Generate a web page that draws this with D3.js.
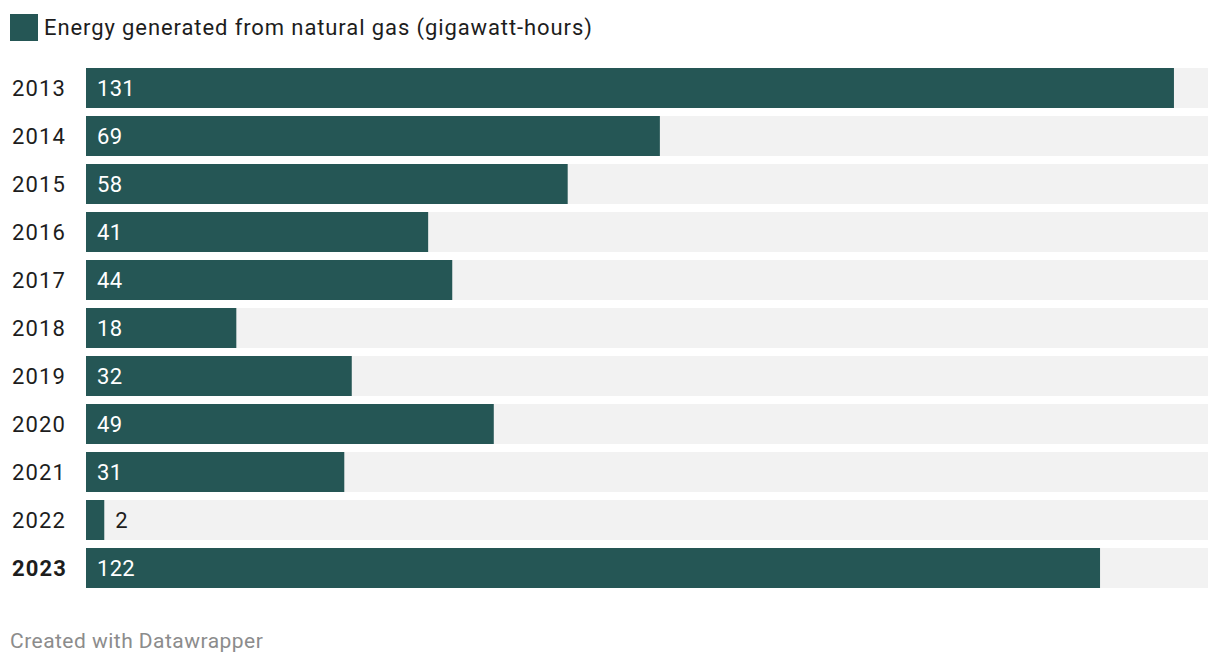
<!DOCTYPE html>
<html><head><meta charset="utf-8">
<script src="https://cdn.jsdelivr.net/npm/d3@7"></script>
<style>body{margin:0;background:#fff;font-family:Roboto,sans-serif;}</style>
</head><body>
<svg id="c" width="1220" height="666"></svg>
<script>
const years = ["2013","2014","2015","2016","2017","2018","2019","2020","2021","2022","2023"];
const values = [131, 69.1, 58, 41.2, 44.1, 18.1, 32, 49.1, 31.1, 2.2, 122.1];
const legendLabel = "Energy generated from natural gas (gigawatt-hours)";
const footer = "Created with Datawrapper";
const maxDomain = 135.1;

const svg = d3.select("#c");
const color = "#255655";
const x = d3.scaleLinear().domain([0, maxDomain]).range([86, 1208]);
const step = 48, bh = 40;
const yPos = d3.scalePoint().domain(years).range([68, 68 + step*(years.length-1)]);

// legend
svg.append("rect").attr("x",10).attr("y",14).attr("width",28).attr("height",27).attr("fill",color);
svg.append("text").attr("x",44).attr("y",34.5).attr("font-size",22).attr("letter-spacing",0.9).attr("fill","#1d1d1d").text(legendLabel);

const g = svg.append("g");
const rows = g.selectAll("g.row").data(years.map((yr,i)=>({yr, v: values[i]}))).join("g");
rows.append("rect").attr("x", x(0)).attr("y", d=>yPos(d.yr)).attr("width", x(maxDomain)-x(0)).attr("height", bh).attr("fill","#f2f2f2");
rows.append("rect").attr("x", x(0)).attr("y", d=>yPos(d.yr)).attr("width", d=>x(d.v)-x(0)).attr("height", bh).attr("fill",color);
rows.append("text").attr("x",12).attr("y", d=>yPos(d.yr)+bh/2+8)
  .attr("font-size",22).attr("letter-spacing",1.1).attr("fill","#1d1d1d")
  .attr("font-weight", (d,i)=> i===years.length-1 ? "bold" : "normal")
  .text(d=>d.yr);
rows.append("text")
  .attr("x", d => (x(d.v)-x(0) > 50) ? x(0)+11 : x(d.v)+11)
  .attr("y", d=>yPos(d.yr)+bh/2+8)
  .attr("font-size",22).attr("letter-spacing",0.3)
  .attr("fill", d => (x(d.v)-x(0) > 50) ? "#ffffff" : "#1d1d1d")
  .text(d=>d3.format(".0f")(d.v));

svg.append("text").attr("x",10).attr("y",648).attr("font-size",21).attr("letter-spacing",0.47).attr("fill","#8c8c8c").text(footer);
</script>
</body></html>
